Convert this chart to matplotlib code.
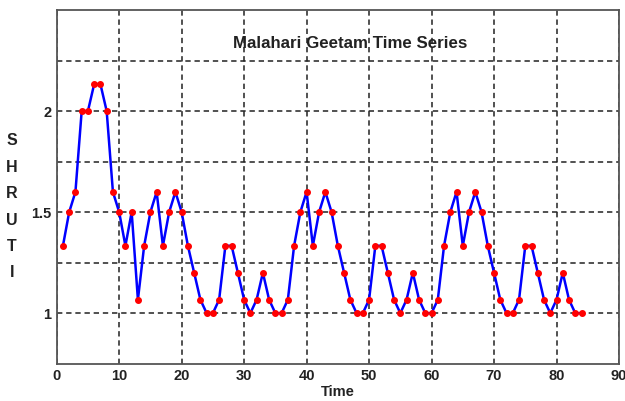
import matplotlib
matplotlib.use("Agg")
import matplotlib.pyplot as plt

# shruti ratios
S1 = 1.0
S_KOMAL_RE = 16 / 15
S_GA = 6 / 5
S_MA = 4 / 3
S_PA = 3 / 2
S_DHA = 8 / 5
S_SA2 = 2.0
S_RE2 = 32 / 15

time = list(range(1, 85))
shruti = [
    S_MA, S_PA, S_DHA, S_SA2, S_SA2, S_RE2, S_RE2, S_SA2, S_DHA, S_PA,
    S_MA, S_PA, S_KOMAL_RE, S_MA, S_PA, S_DHA, S_MA, S_PA, S_DHA, S_PA,
    S_MA, S_GA, S_KOMAL_RE, S1, S1, S_KOMAL_RE, S_MA, S_MA, S_GA, S_KOMAL_RE,
    S1, S_KOMAL_RE, S_GA, S_KOMAL_RE, S1, S1, S_KOMAL_RE, S_MA, S_PA, S_DHA,
    S_MA, S_PA, S_DHA, S_PA, S_MA, S_GA, S_KOMAL_RE, S1, S1, S_KOMAL_RE,
    S_MA, S_MA, S_GA, S_KOMAL_RE, S1, S_KOMAL_RE, S_GA, S_KOMAL_RE, S1, S1,
    S_KOMAL_RE, S_MA, S_PA, S_DHA, S_MA, S_PA, S_DHA, S_PA, S_MA, S_GA,
    S_KOMAL_RE, S1, S1, S_KOMAL_RE, S_MA, S_MA, S_GA, S_KOMAL_RE, S1, S_KOMAL_RE,
    S_GA, S_KOMAL_RE, S1, S1,
]

xticks = list(range(0, 100, 10))
yticks = [1.0, 1.25, 1.5, 1.75, 2.0, 2.25]
ytick_labels = ['1', '', '1.5', '', '2', '']

plt.rcParams['font.family'] = ['Liberation Sans', 'DejaVu Sans']

fig = plt.figure(figsize=(6.25, 4.01), dpi=100)
ax = fig.add_axes([0.0907, 0.093, 0.8997, 0.882])

ax.plot(time, shruti, color='#0000ff', linewidth=1.8, marker='o',
        markersize=4.0, markerfacecolor='#ff0000', markeredgecolor='#ff0000',
        zorder=3)

ax.set_xlim(0, 90)
ax.set_ylim(0.75, 2.5)
ax.set_xticks(xticks)
ax.set_yticks(yticks)
ax.set_yticklabels(ytick_labels)
ax.tick_params(length=0, labelsize=10.5, pad=4, colors='#222222')
for lab in ax.get_xticklabels() + ax.get_yticklabels():
    lab.set_fontweight('bold')

ax.grid(True, color='#222222', linestyle=(0, (3.5, 2.5)), linewidth=1.1)
for sp in ax.spines.values():
    sp.set_color('#555555')
    sp.set_linewidth(1.3)

ax.text(47, 2.336, 'Malahari Geetam Time Series', ha='center', va='center',
        fontsize=12.2, fontweight='bold', color='#222222')
ax.set_xlabel('Time', fontsize=10.5, fontweight='bold', color='#222222', labelpad=1)

fig.text(0.019, 0.484, 'S\nH\nR\nU\nT\nI', ha='center', va='center',
         fontsize=11.5, fontweight='bold', color='#222222', linespacing=1.95)

fig.savefig('out.png', dpi=100)
